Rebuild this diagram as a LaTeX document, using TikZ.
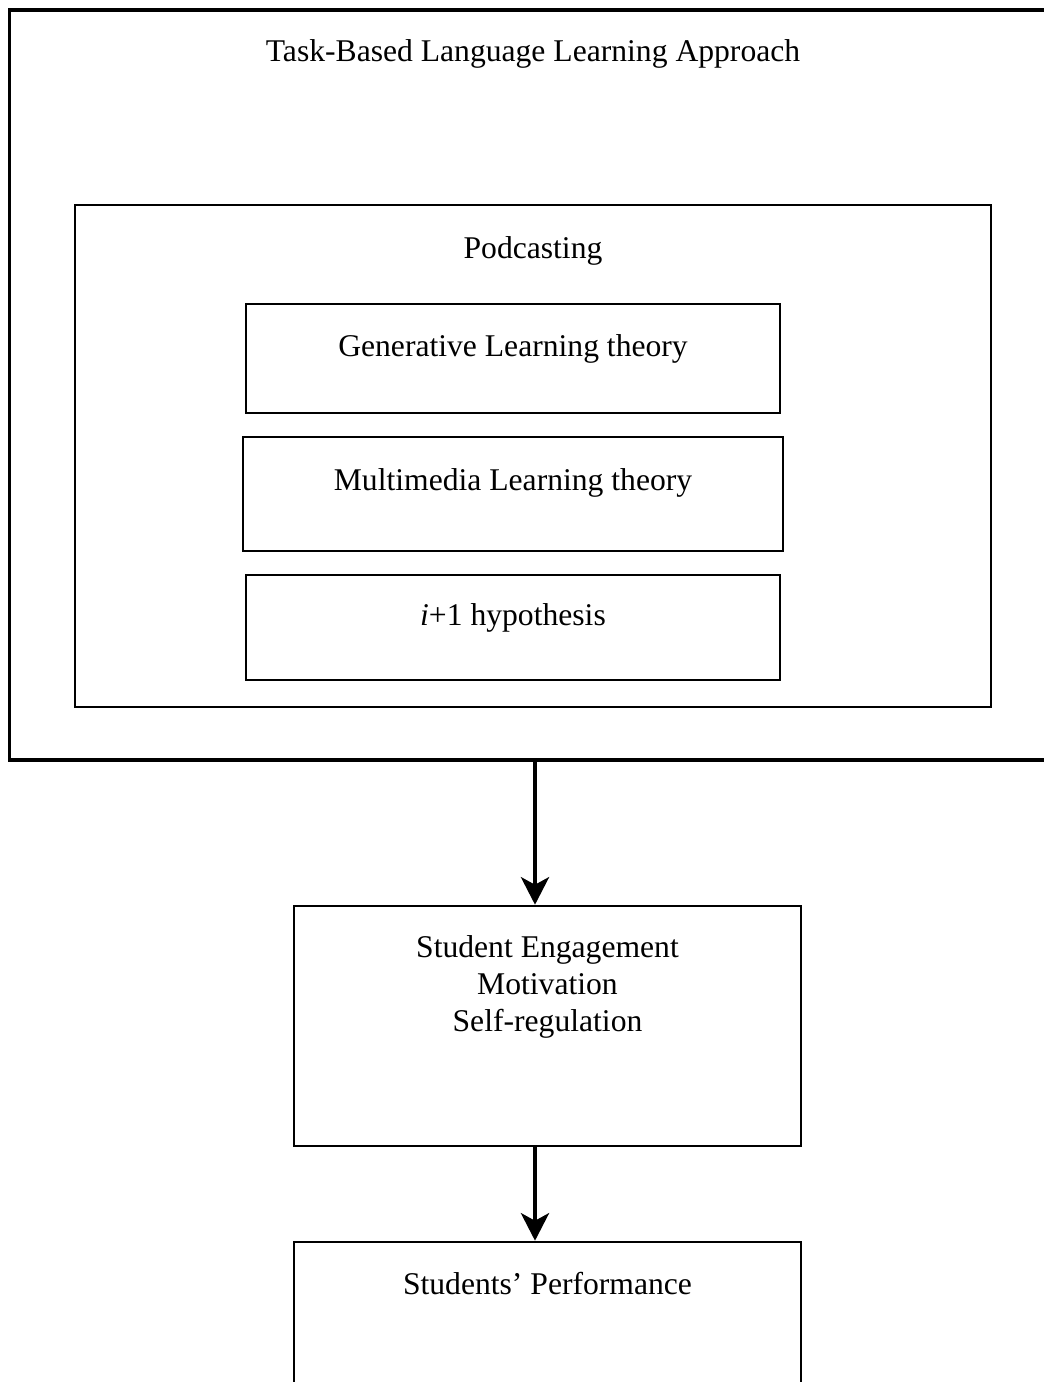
\documentclass[tikz,border=0pt]{standalone}
\usepackage{fontspec}
\setmainfont{Liberation Serif}
\usetikzlibrary{arrows.meta}
\begin{document}
\begin{tikzpicture}[x=0.02cm, y=-0.02cm,
		frame/.style={rectangle, draw=black, line width=1.8pt, inner sep=0pt},
		box/.style={rectangle, draw=black, line width=1.5pt, inner sep=0pt},
		txt/.style={anchor=base, inner sep=0pt, align=center, font=\fontsize{18}{21}\selectfont},
		flow/.style={-{Stealth[length=0.55cm, width=0.56cm, inset=0.15cm]}, line width=2.6pt}
		]
		\useasboundingbox (0,0) rectangle (1044,1382);
		
		\node[frame, minimum width=21.04cm, minimum height=15cm] (tbla) at (535,385) {};
		\node[txt] (tblatxt) at (533,62) {Task-Based Language Learning Approach};
		
		\node[box, minimum width=18.32cm, minimum height=10.04cm] (podcast) at (533,456) {};
		\node[txt] (podcasttxt) at (533,258) {Podcasting};
		
		\node[box, minimum width=10.68cm, minimum height=2.18cm] (generative) at (513,358.5) {};
		\node[txt] (generativetxt) at (513,356) {Generative Learning theory};
		
		\node[box, minimum width=10.8cm, minimum height=2.28cm] (multimedia) at (513,494) {};
		\node[txt] (multimediatxt) at (513,490) {Multimedia Learning theory};
		
		\node[box, minimum width=10.68cm, minimum height=2.1cm] (hypothesis) at (513,627.5) {};
		\node[txt] (hypothesistxt) at (513,625) {\textit{i}+1 hypothesis};
		
		\node[box, minimum width=10.14cm, minimum height=4.8cm] (engage) at (547.5,1026) {};
		\node[txt] (engagetxt) at (547.5,1031) {Student Engagement\\Motivation\\Self-regulation};
		
		\node[box, minimum width=10.14cm, minimum height=3.56cm] (perform) at (547.5,1331) {};
		\node[txt] (performtxt) at (547.5,1294) {Students’ Performance};
		
		\draw[flow] (tbla.south) -- (tbla.south |- engage.north);
		\draw[flow] (engage.south -| tbla.south) -- (perform.north -| tbla.south);
		
	\end{tikzpicture}
\end{document}
